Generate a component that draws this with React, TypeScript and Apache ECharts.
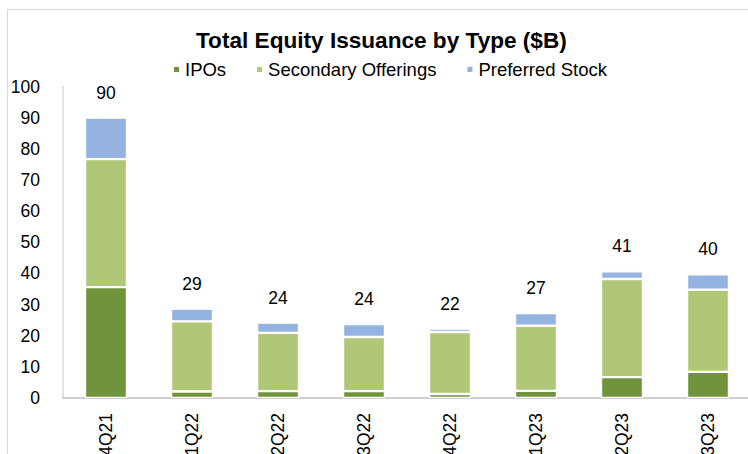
import React, { useEffect, useRef } from "react";
import * as echarts from "echarts";

const categories = ["4Q21", "1Q22", "2Q22", "3Q22", "4Q22", "1Q23", "2Q23", "3Q23"];
const ipos = [35.6, 2.1, 2.2, 2.2, 1.3, 2.3, 6.7, 8.4];
const secondary = [41.1, 22.5, 18.7, 17.4, 19.9, 20.9, 31.5, 26.4];
const preferred = [13.3, 4.1, 3.3, 4.1, 1.1, 4.1, 2.5, 4.9];
const totals = [90, 29, 24, 24, 22, 27, 41, 40];
const yTicks = { min: 0, max: 100, interval: 10 };

const FONT = "'Liberation Sans', Arial, sans-serif";

export default function App() {
  const ref = useRef<HTMLDivElement>(null);
  useEffect(() => {
    if (!ref.current) return;
    const chart = echarts.init(ref.current, null, { renderer: "svg" });
    const barBase = {
      type: "bar",
      stack: "total",
      barWidth: 42,
      itemStyle: { borderColor: "#ffffff", borderWidth: 1.2 },
    };
    chart.setOption({
      animation: false,
      backgroundColor: "#ffffff",
      textStyle: { fontFamily: FONT, color: "#000" },
      title: {
        text: "Total Equity Issuance by Type ($B)",
        left: 196,
        top: 28.5,
        padding: 0,
        textStyle: { fontFamily: FONT, fontWeight: "bold", fontSize: 22.6, color: "#000" },
      },
      legend: {
        left: 172,
        top: 60,
        padding: 0,
        icon: "rect",
        itemWidth: 7,
        itemHeight: 7,
        itemGap: 29,
        textStyle: { fontFamily: FONT, fontSize: 18.5, color: "#000", padding: [0, 0, 0, 0] },
        data: ["IPOs", "Secondary Offerings", "Preferred Stock"],
      },
      graphic: [
        {
          type: "rect",
          shape: { x: 7.5, y: 9.5, width: 800, height: 500 },
          style: { fill: "none", stroke: "#d9d9d9", lineWidth: 1 },
          silent: true,
        },
      ],
      grid: {
        left: 63,
        top: 86.5,
        width: 688,
        height: 311.5,
        containLabel: false,
        outerBoundsMode: "none",
      },
      xAxis: {
        type: "category",
        data: categories,
        axisLine: { show: true, lineStyle: { color: "#bfbfbf", width: 1.5 } },
        axisTick: { show: false },
        axisLabel: { rotate: 90, margin: 15, fontSize: 17.5, color: "#000", fontFamily: FONT },
      },
      yAxis: {
        type: "value",
        min: yTicks.min,
        max: yTicks.max,
        interval: yTicks.interval,
        axisLine: { show: true, lineStyle: { color: "#d9d9d9", width: 1.5 } },
        axisTick: { show: false },
        splitLine: { show: false },
        axisLabel: { margin: 23, fontSize: 17.5, color: "#000", fontFamily: FONT },
      },
      series: [
        { ...barBase, name: "IPOs", data: ipos, itemStyle: { ...barBase.itemStyle, color: "#70933C" } },
        { ...barBase, name: "Secondary Offerings", data: secondary, itemStyle: { ...barBase.itemStyle, color: "#AFC777" } },
        {
          ...barBase,
          name: "Preferred Stock",
          data: preferred,
          itemStyle: { ...barBase.itemStyle, color: "#95B3E0" },
          label: {
            show: true,
            position: "top",
            distance: 16,
            fontSize: 17.5,
            color: "#000",
            fontFamily: FONT,
            formatter: (p: any) => String(totals[p.dataIndex]),
          },
        },
      ],
    });
    return () => chart.dispose();
  }, []);
  return (
    <div
      ref={ref}
      style={{ position: "fixed", left: 0, top: 0, width: 748, height: 454, background: "#fff" }}
    />
  );
}
